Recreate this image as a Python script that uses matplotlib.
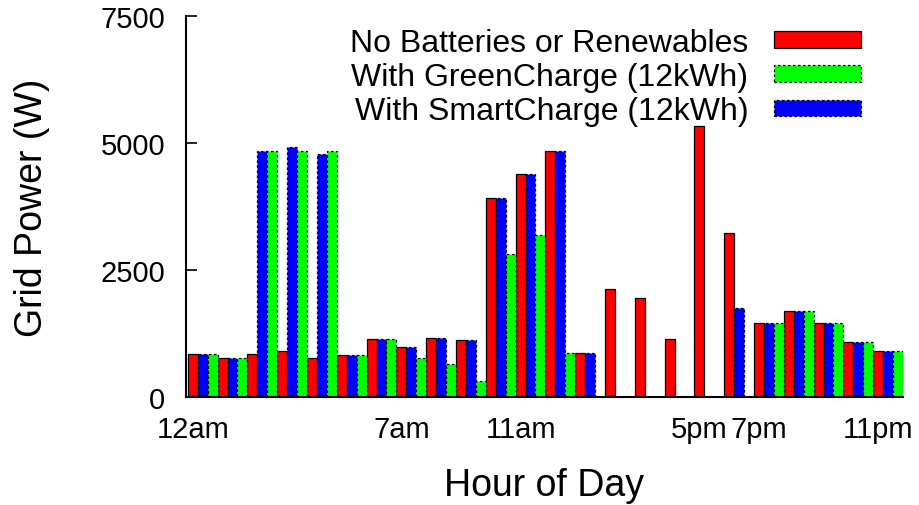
import matplotlib
matplotlib.use("Agg")
from matplotlib import pyplot as plt
import numpy as np

plt.rcParams['font.family'] = ['Liberation Sans', 'DejaVu Sans']

# hourly grid power (W)
hours = list(range(24))
no_batteries = [850, 775, 842, 914, 763, 835, 1138, 993, 1171, 1125, 3927, 4388,
                4849, 862, 2118, 1947, 1145, 5342, 3230, 1450, 1691, 1450, 1091, 914]
smart_charge = [850, 775, 4849, 4914, 4776, 832, 1138, 990, 1158, 1125, 3927, 4382,
                4849, 868, 0, 0, 0, 0, 1756, 1450, 1691, 1450, 1080, 908]
green_charge = [850, 775, 4849, 4849, 4849, 832, 1138, 763, 651, 309, 2809, 3184,
                868, 0, 0, 0, 0, 0, 0, 1450, 1691, 1450, 1080, 908]

tick_hours = [0, 7, 11, 17, 19, 23]
tick_labels = ['12am', '7am', '11am', '5pm', '7pm', '11pm']

fig = plt.figure(figsize=(9.2, 5.06), dpi=100)
ax = fig.add_axes([0.202, 0.2134, 0.7795, 0.753])

x = np.array(hours) * 3
dash = (0, (2, 2))
b_red = ax.bar(x, no_batteries, width=1, align='edge', color='#ff0000',
               edgecolor='black', linewidth=0.9)
b_blue = ax.bar(x + 1, smart_charge, width=1, align='edge', color='#0000ff',
                edgecolor='black', linewidth=0.9, linestyle=dash)
b_green = ax.bar(x + 2, green_charge, width=1, align='edge', color='#00ff00',
                 edgecolor='black', linewidth=0.9, linestyle=dash)

ax.set_xlim(-0.2, 72)
ax.set_ylim(0, 7500)
ax.set_yticks([0, 2500, 5000, 7500])
ax.set_xticks(np.array(tick_hours) * 3 + 0.5)
ax.set_xticklabels(tick_labels)
ax.tick_params(axis='y', direction='in', length=8, width=1.2, pad=15, labelsize=21)
ax.tick_params(axis='x', length=0, pad=13, labelsize=21)

for s in ['top', 'right']:
    ax.spines[s].set_visible(False)
for s in ['left', 'bottom']:
    ax.spines[s].set_linewidth(1.5)

ax.set_xlabel('Hour of Day', fontsize=27, labelpad=17)
ax.set_ylabel('Grid Power (W)', fontsize=27, labelpad=36)

ax.legend([b_red, b_green, b_blue],
          ['No Batteries or Renewables', 'With GreenCharge (12kWh)',
           'With SmartCharge (12kWh)'],
          loc='upper right', bbox_to_anchor=(0.973, 1.027), markerfirst=False,
          frameon=False, fontsize=23, handlelength=2.73, handleheight=0.44,
          labelspacing=0.13, handletextpad=0.8, borderpad=0.2)

fig.savefig('out.png', dpi=100)
